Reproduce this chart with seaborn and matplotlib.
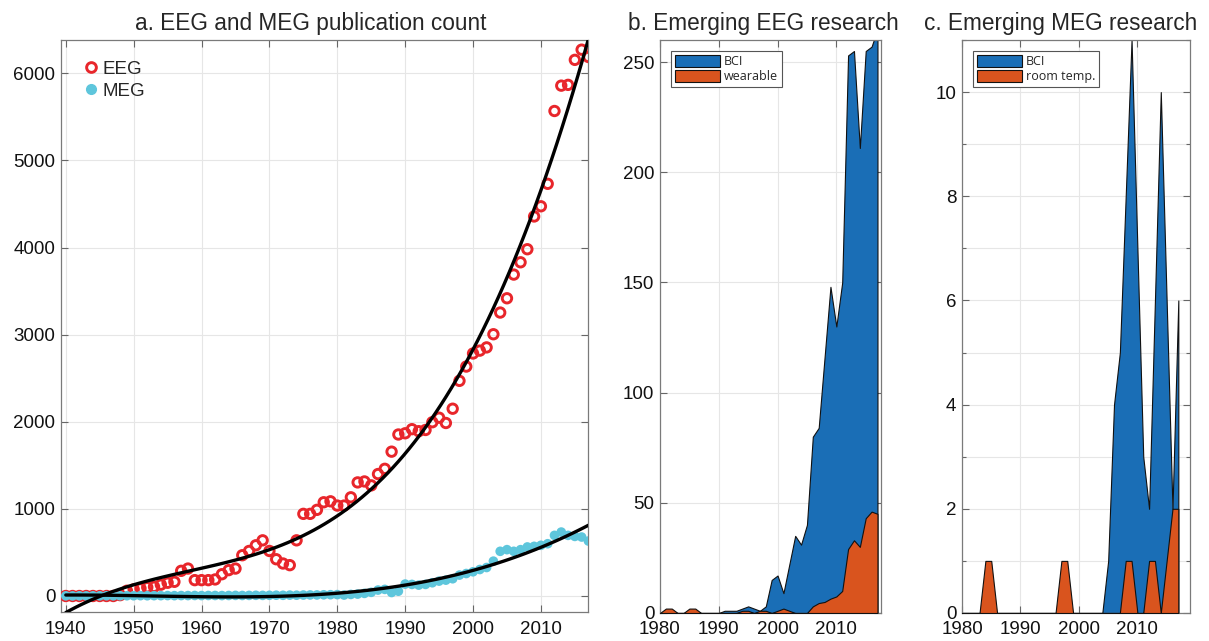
import numpy as np
import pandas as pd
import seaborn as sns
import matplotlib.pyplot as plt
from matplotlib.patches import Patch
from matplotlib.lines import Line2D
from matplotlib.ticker import MultipleLocator

# ---- data ----
years_a = list(range(1940, 2018))
eeg_counts = [0, 0, 0, 0, 0, 0, 0, 0, 10, 60,
              76, 87, 100, 106, 130, 152, 163, 289, 315, 182,
              182, 182, 190, 250, 297, 315, 468, 517, 582, 639,
              517, 422, 373, 354, 639, 943, 943, 989, 1076, 1087,
              1038, 1038, 1133, 1304, 1315, 1270, 1400, 1460, 1657, 1854,
              1868, 1915, 1892, 1906, 1995, 2047, 1986, 2150, 2470, 2634,
              2784, 2817, 2854, 3005, 3254, 3418, 3690, 3831, 3981, 4357,
              4474, 4732, 5568, 5859, 5868, 6155, 6272, 6188]
meg_counts = [2, 1, 2, 1, 2, 2, 3, 2, 3, 3,
              3, 4, 3, 4, 4, 5, 4, 5, 5, 6,
              5, 6, 6, 5, 6, 7, 6, 7, 8, 7,
              8, 9, 8, 10, 9, 11, 12, 12, 14, 15,
              16, 11, 18, 22, 30, 42, 68, 76, 40, 55,
              137, 133, 125, 133, 152, 171, 182, 198, 240, 258,
              278, 304, 327, 400, 513, 532, 513, 532, 563, 570,
              582, 600, 696, 734, 696, 684, 677, 631]

years_bc = list(range(1980, 2018))
eeg_bci = [0, 0, 0, 0, 0, 0, 0, 0, 0, 0,
           0, 1, 1, 1, 2, 3, 2, 1, 3, 15,
           17, 9, 22, 35, 31, 40, 80, 84, 116, 148,
           130, 150, 253, 255, 211, 255, 257, 265]
eeg_wearable = [0, 2, 2, 0, 0, 2, 2, 0, 0, 0,
                0, 0, 0, 0, 1, 1, 0, 1, 1, 0,
                1, 2, 1, 0, 0, 0, 3, 4.5, 5, 6.5,
                7.5, 10, 29, 33, 30, 43, 46, 45]
meg_bci = [0, 0, 0, 0, 0, 0, 0, 0, 0, 0,
           0, 0, 0, 0, 0, 0, 0, 0, 0, 0,
           0, 0, 0, 0, 0, 1, 4, 5, 8, 11,
           7, 3, 2, 6, 10, 6, 2, 6]
meg_room_temp = [0, 0, 0, 0, 1, 1, 0, 0, 0, 0,
                 0, 0, 0, 0, 0, 0, 0, 1, 1, 0,
                 0, 0, 0, 0, 0, 0, 0, 0, 1, 1,
                 0, 0, 1, 1, 0, 1, 2, 2]

EEG_RED = '#e8262b'
MEG_CYAN = '#5ec6dc'
AREA_BLUE = '#1a6eb6'
AREA_ORANGE = '#d9541e'

sns.set_theme(style="whitegrid")
plt.rcParams['font.family'] = ['Liberation Sans', 'DejaVu Sans']
plt.rcParams['axes.edgecolor'] = '#7a7a7a'
plt.rcParams['axes.linewidth'] = 0.9
plt.rcParams['grid.color'] = '#e6e6e6'
plt.rcParams['grid.linewidth'] = 0.8

pubs = pd.DataFrame({'year': years_a, 'EEG': eeg_counts, 'MEG': meg_counts})
emerging = pd.DataFrame({'year': years_bc, 'eeg_bci': eeg_bci, 'wearable': eeg_wearable,
                         'meg_bci': meg_bci, 'room': meg_room_temp})

fig = plt.figure(figsize=(12.09, 6.41), dpi=100)
ax_a = fig.add_axes([0.0505, 0.0448, 0.4362, 0.8928])
ax_b = fig.add_axes([0.5459, 0.0437, 0.1828, 0.8939])
ax_c = fig.add_axes([0.7957, 0.0437, 0.1886, 0.8939])


def style_axes(ax):
    ax.set_axisbelow(True)
    ax.grid(True, which='both')
    ax.tick_params(which='both', direction='in', top=True, right=True, bottom=True, left=True,
                   length=5, width=0.8, color='#666666', labelsize=13.5, labelcolor='#111111')
    ax.tick_params(axis='x', pad=6)
    ax.tick_params(axis='y', pad=4)
    ax.tick_params(which='minor', length=3)
    for s in ax.spines.values():
        s.set_visible(True)
        s.set_color('#7a7a7a')


# ---- a. publication counts ----
sns.scatterplot(data=pubs, x='year', y='EEG', ax=ax_a, marker='o', s=46,
                facecolor='none', edgecolor=EEG_RED, linewidth=2.1, zorder=3)
sns.scatterplot(data=pubs, x='year', y='MEG', ax=ax_a, marker='o', s=48,
                color=MEG_CYAN, edgecolor='none', linewidth=0, zorder=4)
sns.regplot(data=pubs, x='year', y='EEG', order=3, scatter=False, ci=None, ax=ax_a,
            color='black', line_kws=dict(lw=2.4, zorder=5))
sns.regplot(data=pubs, x='year', y='MEG', order=3, scatter=False, ci=None, ax=ax_a,
            color='black', line_kws=dict(lw=2.4, zorder=5))
ax_a.set_xlim(1939.3, 2017)
ax_a.set_ylim(-187, 6383)
ax_a.set_xticks(range(1940, 2011, 10))
ax_a.set_yticks(range(0, 6001, 1000))
ax_a.set_xlabel('')
ax_a.set_ylabel('')
style_axes(ax_a)
ax_a.set_title('a. EEG and MEG publication count', fontsize=16.3, pad=7, x=0.474)
leg_handles = [Line2D([], [], ls='none', marker='o', ms=7, mfc='none', mec=EEG_RED, mew=2.1, label='EEG'),
               Line2D([], [], ls='none', marker='o', ms=7, mfc=MEG_CYAN, mec=MEG_CYAN, label='MEG')]
ax_a.legend(handles=leg_handles, loc='upper left', frameon=False, fontsize=13.5,
            handletextpad=0.1, labelspacing=0.25, borderaxespad=0.7, handlelength=1.0)


# ---- b / c. emerging research areas ----
def area_panel(ax, x, top, bottom_series, labels, ylim, title, title_x):
    ax.fill_between(x, top, 0, facecolor=AREA_BLUE, edgecolor='#111111', linewidth=0.8, zorder=2)
    ax.fill_between(x, bottom_series, 0, facecolor=AREA_ORANGE, edgecolor='#111111', linewidth=0.8, zorder=3)
    ax.set_ylim(*ylim)
    ax.set_xticks(range(1980, 2011, 10))
    style_axes(ax)
    ax.set_title(title, fontsize=16.3, pad=7, x=title_x)
    handles = [Patch(facecolor=AREA_BLUE, edgecolor='#111111', linewidth=0.8, label=labels[0]),
               Patch(facecolor=AREA_ORANGE, edgecolor='#111111', linewidth=0.8, label=labels[1])]
    leg = ax.legend(handles=handles, loc='upper left', prop={'family': 'Open Sans', 'size': 9},
                    fancybox=False, framealpha=1, edgecolor='#555555', handlelength=3.6,
                    handleheight=1.05, handletextpad=0.3, labelspacing=0.15, borderpad=0.3,
                    borderaxespad=0.9)
    leg.get_frame().set_linewidth(0.8)


area_panel(ax_b, emerging['year'], emerging['eeg_bci'], emerging['wearable'],
           ['BCI', 'wearable'], (0, 260), 'b. Emerging EEG research', 0.47)
ax_b.set_xlim(1980, 2017.6)
ax_b.set_yticks(range(0, 251, 50))

area_panel(ax_c, emerging['year'], emerging['meg_bci'], emerging['room'],
           ['BCI', 'room temp.'], (0, 11), 'c. Emerging MEG research', 0.434)
ax_c.set_xlim(1980, 2019)
ax_c.set_yticks(range(0, 11, 2))
ax_c.yaxis.set_minor_locator(MultipleLocator(1))

fig.savefig('out.png', dpi=100)
